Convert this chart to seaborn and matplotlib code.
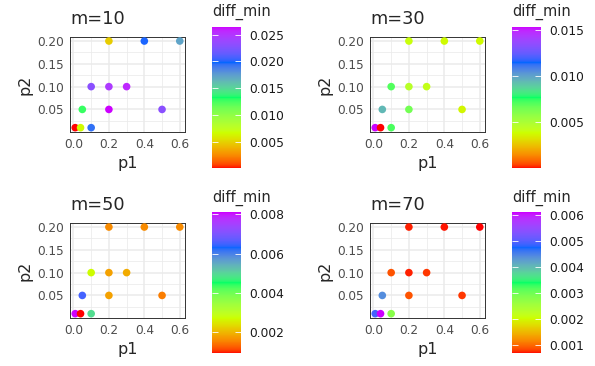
import numpy as np
import pandas as pd
import matplotlib
matplotlib.use("Agg")
import matplotlib.pyplot as plt
import seaborn as sns
from matplotlib.colors import ListedColormap, Normalize, to_rgb
from matplotlib.cm import ScalarMappable
from matplotlib.ticker import FormatStrFormatter, FixedLocator

# ---------------- data ----------------
p1 = [0.01, 0.04, 0.10, 0.05, 0.20, 0.50, 0.10, 0.20, 0.30, 0.20, 0.40, 0.60]
p2 = [0.01, 0.01, 0.01, 0.05, 0.05, 0.05, 0.10, 0.10, 0.10, 0.20, 0.20, 0.20]
panel_titles = ["m=10", "m=30", "m=50", "m=70"]
diff_m10 = [0.00005, 0.0065, 0.0194, 0.0128, 0.0265, 0.0230, 0.0230, 0.0247, 0.0257, 0.0048, 0.0200, 0.0172]
diff_m30 = [0.0154, 0.00001, 0.0072, 0.0095, 0.0065, 0.0037, 0.0071, 0.0046, 0.0042, 0.0040, 0.0038, 0.0038]
diff_m50 = [0.0081, 0.00093, 0.0049, 0.0065, 0.0018, 0.0015, 0.0027, 0.0018, 0.0019, 0.0016, 0.0016, 0.0016]
diff_m70 = [0.0049, 0.0061, 0.0028, 0.0044, 0.0009, 0.0008, 0.0009, 0.00075, 0.0008, 0.00075, 0.00072, 0.0007]
cbar_steps = [0.005, 0.005, 0.002, 0.001]
rainbow5 = ["#FF0000", "#CCFF00", "#00FF66", "#0066FF", "#CC00FF"]

# ---------------- Lab interpolated colour map ----------------
M = np.array([[0.4124, 0.3576, 0.1805], [0.2126, 0.7152, 0.0722], [0.0193, 0.1192, 0.9505]])
Minv = np.linalg.inv(M)
white = M @ np.ones(3)
d = 6 / 29


def rgb2lab(c):
    c = np.asarray(c, float)
    lin = np.where(c <= 0.04045, c / 12.92, ((c + 0.055) / 1.055) ** 2.4)
    xyz = (M @ lin) / white
    f = np.where(xyz > d ** 3, np.cbrt(xyz), xyz / (3 * d * d) + 4 / 29)
    return np.array([116 * f[1] - 16, 500 * (f[0] - f[1]), 200 * (f[1] - f[2])])


def lab2rgb(lab):
    L, a, b = lab
    fy = (L + 16) / 116
    fx = fy + a / 500
    fz = fy - b / 200
    f = np.array([fx, fy, fz])
    xyz = np.where(f > d, f ** 3, 3 * d * d * (f - 4 / 29)) * white
    lin = np.clip(Minv @ xyz, 0, 1)
    s = np.where(lin <= 0.0031308, 12.92 * lin, 1.055 * lin ** (1 / 2.4) - 0.055)
    return np.clip(s, 0, 1)


labs = [rgb2lab(to_rgb(c)) for c in rainbow5]
cols = []
for t in np.linspace(0, 1, 300):
    pos = t * 4
    i = min(int(pos), 3)
    u = pos - i
    cols.append(lab2rgb(labs[i] * (1 - u) + labs[i + 1] * u))
cmap = ListedColormap(cols)

# ---------------- figure ----------------
sns.set_style("white")
plt.rcParams["font.family"] = ["DejaVu Sans"]

W, H = 595, 366
fig = plt.figure(figsize=(W / 100, H / 100), dpi=100)


def frac(l, t, w, h):
    return [l / W, (H - t - h) / H, w / W, h / H]


diffs = [diff_m10, diff_m30, diff_m50, diff_m70]
xoffs = [0, 300, 0, 300]
for k in range(4):
    ox = xoffs[k]
    top_ax = 36.7 if k < 2 else 222.7
    ax = fig.add_axes(frac(70 + ox, top_ax, 115, 95.3))
    df = pd.DataFrame({"p1": p1, "p2": p2, "diff_min": diffs[k]})
    vmin, vmax = min(diffs[k]), max(diffs[k])
    norm = Normalize(vmin, vmax)
    ax.set_axisbelow(True)
    sns.scatterplot(data=df, x="p1", y="p2", hue="diff_min", palette=cmap,
                    hue_norm=norm, legend=False, s=30, linewidth=0, ax=ax,
                    zorder=3)
    ax.set_xlim(-0.0195, 0.6295)
    ax.set_ylim(0.0005, 0.2095)
    ax.xaxis.set_major_locator(FixedLocator([0.0, 0.2, 0.4, 0.6]))
    ax.xaxis.set_major_formatter(FormatStrFormatter("%.1f"))
    ax.xaxis.set_minor_locator(FixedLocator([0.1, 0.3, 0.5]))
    ax.yaxis.set_major_locator(FixedLocator([0.05, 0.10, 0.15, 0.20]))
    ax.yaxis.set_major_formatter(FormatStrFormatter("%.2f"))
    ax.yaxis.set_minor_locator(FixedLocator([0.025, 0.075, 0.125, 0.175]))
    ax.grid(True, which="major", color="#EBEBEB", linewidth=1.1)
    ax.grid(True, which="minor", color="#EBEBEB", linewidth=0.55)
    for sp in ax.spines.values():
        sp.set_color("#333333")
        sp.set_linewidth(0.7)
    ax.tick_params(which="major", length=2.8, width=0.6, color="#333333",
                   labelsize=8.7, labelcolor="#4D4D4D", pad=1.8)
    ax.tick_params(which="minor", length=0)
    ax.set_xlabel("p1", fontsize=11.5, labelpad=3)
    ax.set_ylabel("p2", fontsize=11.5, labelpad=3.5)
    ax.set_title(panel_titles[k], loc="left", fontsize=12.8, pad=9.2)

    # colour bar
    ctop = 26.7 if k < 2 else 212.3
    cheight = 141.6 if k < 2 else 141.0
    cax = fig.add_axes(frac(212.3 + ox, ctop, 28.4, cheight))
    sm = ScalarMappable(norm=norm, cmap=cmap)
    cb = fig.colorbar(sm, cax=cax)
    cb.outline.set_visible(False)
    step = cbar_steps[k]
    ticks = np.arange(step, vmax + 1e-12, step)
    ticks = [t for t in ticks if vmin <= t <= vmax + 1e-9]
    cb.set_ticks(ticks)
    cb.ax.yaxis.set_major_formatter(FormatStrFormatter("%.3f"))
    cax.tick_params(length=0, labelsize=8.8, pad=6.5, labelcolor="#1A1A1A")
    cax.hlines(ticks, 0, 0.2, color="white", linewidth=0.6)
    cax.hlines(ticks, 0.8, 1.0, color="white", linewidth=0.6)
    fig.text((212.3 + ox) / W, 1 - (ctop - 10.7) / H, "diff_min",
             fontsize=10.5, ha="left", va="baseline")

fig.savefig("out.png", dpi=100)
